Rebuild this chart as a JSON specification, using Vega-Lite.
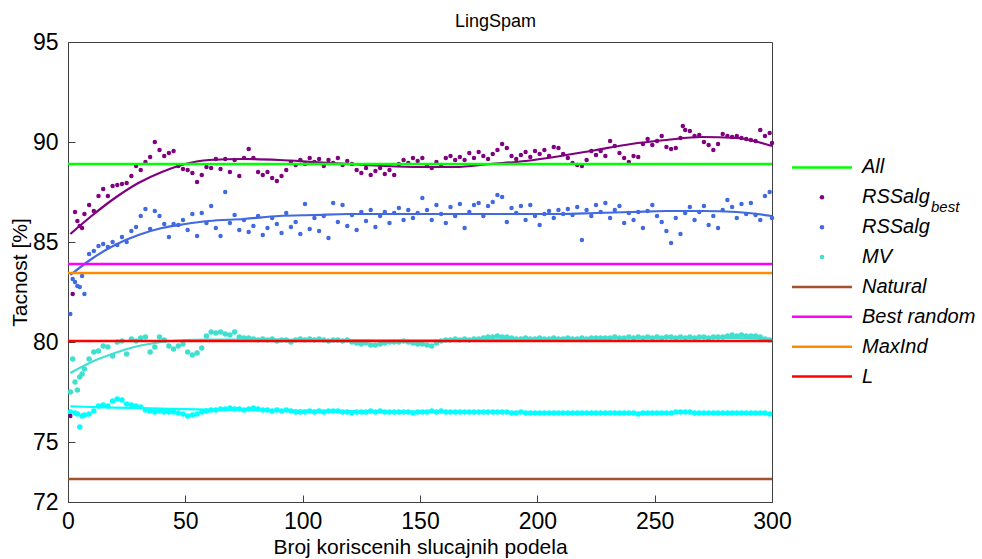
{
  "$schema": "https://vega.github.io/schema/vega-lite/v6.json",
  "background": "white",
  "padding": {"left": 8, "top": 12, "right": 0, "bottom": 0},
  "bounds": "flush",
  "spacing": 10,
  "title": {"text": "LingSpam", "fontSize": 18, "fontWeight": "normal", "color": "#000", "font": "Liberation Sans", "anchor": "middle", "offset": 0},
  "config": {
    "font": "Liberation Sans",
    "axis": {"domainColor": "#404040", "tickColor": "#404040", "tickSize": -7, "labelFontSize": 23, "titleFontSize": 21, "labelColor": "#000", "titleColor": "#000", "titleFontWeight": "normal", "grid": false, "labelFlush": false, "labelFont": "Liberation Sans", "titleFont": "Liberation Sans"}
  },
  "datasets": {
    "pts": [
      {"x":1,"p":76.3,"b":81.4,"t":77.5,"c":76.5},
      {"x":2,"p":82.4,"b":83.15,"t":79.15},
      {"x":3,"p":86.5,"b":83.0,"t":78.0,"c":76.45},
      {"x":4,"p":86.05,"b":82.8,"t":77.6,"c":76.4},
      {"x":5,"p":85.8,"b":82.75,"t":78.25,"c":75.75},
      {"x":6,"p":85.7,"b":83.3,"t":78.4,"c":76.3},
      {"x":7,"p":86.4,"b":82.4,"t":78.65,"c":76.35},
      {"x":9,"p":86.85,"b":84.4,"t":79.15,"c":76.4},
      {"x":11,"p":86.55,"b":84.55,"t":79.5,"c":76.55},
      {"x":13,"p":87.3,"b":84.8,"t":79.55,"c":76.8},
      {"x":15,"p":87.65,"b":84.9,"t":79.8,"c":76.85},
      {"x":17,"p":87.3,"b":84.75,"t":79.75,"c":76.8},
      {"x":19,"p":87.8,"b":85.0,"t":79.3,"c":77.05},
      {"x":21,"p":87.85,"b":84.85,"t":80.0,"c":77.15},
      {"x":23,"p":87.9,"b":85.25,"t":80.05,"c":77.1},
      {"x":25,"p":87.95,"b":85.0,"t":79.4,"c":76.9},
      {"x":27,"p":88.3,"b":85.55,"t":80.15,"c":76.85},
      {"x":29,"p":88.8,"b":85.75,"t":80.05,"c":76.8},
      {"x":31,"p":88.6,"b":86.3,"t":80.2,"c":76.75},
      {"x":33,"p":89.0,"b":86.65,"t":80.25,"c":76.6},
      {"x":35,"p":89.25,"b":85.65,"t":79.5,"c":76.55},
      {"x":37,"p":90.0,"b":86.55,"t":79.75,"c":76.5},
      {"x":39,"p":89.6,"b":86.3,"t":80.25,"c":76.55},
      {"x":41,"p":89.3,"b":85.9,"t":80.1,"c":76.5},
      {"x":43,"p":89.45,"b":85.25,"t":79.8,"c":76.5},
      {"x":45,"p":89.55,"b":85.9,"t":79.65,"c":76.5},
      {"x":47,"p":88.8,"b":85.85,"t":79.8,"c":76.45},
      {"x":49,"p":88.65,"b":86.1,"t":79.9,"c":76.4},
      {"x":51,"p":88.6,"b":85.6,"t":79.5,"c":76.3},
      {"x":53,"p":88.45,"b":86.4,"t":79.35,"c":76.35},
      {"x":55,"p":88.0,"b":85.3,"t":79.45,"c":76.4},
      {"x":57,"p":88.35,"b":86.45,"t":79.7,"c":76.5},
      {"x":59,"p":88.75,"b":85.95,"t":80.3,"c":76.55},
      {"x":61,"p":88.7,"b":86.8,"t":80.5,"c":76.6},
      {"x":63,"p":89.15,"b":85.7,"t":80.45,"c":76.6},
      {"x":65,"p":88.65,"b":85.3,"t":80.5,"c":76.65},
      {"x":67,"p":89.15,"b":87.5,"t":80.4,"c":76.65},
      {"x":69,"p":88.5,"b":85.95,"t":80.35,"c":76.7},
      {"x":71,"p":89.1,"b":86.35,"t":80.5,"c":76.65},
      {"x":73,"p":88.3,"b":85.6,"t":80.25,"c":76.65},
      {"x":75,"p":89.2,"b":86.1,"t":80.2,"c":76.6},
      {"x":77,"p":89.65,"b":85.5,"t":80.2,"c":76.65},
      {"x":79,"p":89.2,"b":85.8,"t":80.15,"c":76.7},
      {"x":81,"p":88.5,"b":86.3,"t":80.1,"c":76.65},
      {"x":83,"p":88.35,"b":85.35,"t":80.15,"c":76.6},
      {"x":85,"p":88.5,"b":85.7,"t":80.1,"c":76.6},
      {"x":87,"p":88.2,"b":86.2,"t":80.15,"c":76.55},
      {"x":89,"p":88.05,"b":85.9,"t":80.05,"c":76.6},
      {"x":91,"p":88.3,"b":85.45,"t":80.1,"c":76.55},
      {"x":93,"p":88.6,"b":86.45,"t":80.1,"c":76.6},
      {"x":95,"p":89.0,"b":85.75,"t":80.0,"c":76.55},
      {"x":97,"p":88.85,"b":86.0,"t":80.1,"c":76.5},
      {"x":99,"p":89.1,"b":85.4,"t":80.15,"c":76.5},
      {"x":101,"p":88.9,"b":86.9,"t":80.1,"c":76.5},
      {"x":103,"p":89.2,"b":85.65,"t":80.15,"c":76.55},
      {"x":105,"p":89.0,"b":86.2,"t":80.1,"c":76.5},
      {"x":107,"p":89.15,"b":85.55,"t":80.15,"c":76.55},
      {"x":109,"p":88.8,"b":86.3,"t":80.1,"c":76.5},
      {"x":111,"p":89.1,"b":85.2,"t":80.05,"c":76.55},
      {"x":113,"p":88.95,"b":86.95,"t":80.1,"c":76.55},
      {"x":115,"p":89.2,"b":86.0,"t":80.1,"c":76.55},
      {"x":117,"p":88.85,"b":86.85,"t":80.05,"c":76.5},
      {"x":119,"p":89.05,"b":85.8,"t":80.1,"c":76.5},
      {"x":121,"p":88.9,"b":86.35,"t":80.0,"c":76.45},
      {"x":123,"p":88.6,"b":85.6,"t":79.95,"c":76.5},
      {"x":125,"p":88.45,"b":86.5,"t":79.9,"c":76.5},
      {"x":127,"p":88.7,"b":86.05,"t":79.95,"c":76.5},
      {"x":129,"p":88.35,"b":86.6,"t":79.85,"c":76.55},
      {"x":131,"p":88.55,"b":85.75,"t":79.85,"c":76.5},
      {"x":133,"p":88.7,"b":86.3,"t":79.9,"c":76.55},
      {"x":135,"p":88.4,"b":86.5,"t":79.95,"c":76.5},
      {"x":137,"p":88.6,"b":85.95,"t":80.0,"c":76.5},
      {"x":139,"p":88.35,"b":86.45,"t":80.0,"c":76.5},
      {"x":141,"p":88.9,"b":86.7,"t":80.0,"c":76.5},
      {"x":143,"p":89.1,"b":86.1,"t":80.05,"c":76.5},
      {"x":145,"p":88.95,"b":86.6,"t":80.0,"c":76.5},
      {"x":147,"p":89.2,"b":86.2,"t":79.95,"c":76.45},
      {"x":149,"p":89.05,"b":86.45,"t":79.9,"c":76.5},
      {"x":151,"p":89.2,"b":87.2,"t":79.9,"c":76.5},
      {"x":153,"p":88.8,"b":86.6,"t":79.85,"c":76.5},
      {"x":155,"p":88.7,"b":86.1,"t":79.8,"c":76.55},
      {"x":157,"p":89.0,"b":86.85,"t":79.95,"c":76.5},
      {"x":159,"p":88.85,"b":86.4,"t":80.05,"c":76.55},
      {"x":161,"p":89.2,"b":85.95,"t":80.1,"c":76.5},
      {"x":163,"p":89.3,"b":86.75,"t":80.1,"c":76.5},
      {"x":165,"p":89.1,"b":86.3,"t":80.15,"c":76.5},
      {"x":167,"p":89.25,"b":86.9,"t":80.1,"c":76.5},
      {"x":169,"p":89.1,"b":85.7,"t":80.15,"c":76.5},
      {"x":171,"p":89.45,"b":86.5,"t":80.1,"c":76.5},
      {"x":173,"p":89.2,"b":86.85,"t":80.15,"c":76.5},
      {"x":175,"p":89.5,"b":86.95,"t":80.15,"c":76.5},
      {"x":177,"p":89.3,"b":86.3,"t":80.2,"c":76.5},
      {"x":179,"p":89.15,"b":86.8,"t":80.25,"c":76.5},
      {"x":181,"p":89.4,"b":87.0,"t":80.25,"c":76.5},
      {"x":183,"p":89.6,"b":87.35,"t":80.3,"c":76.5},
      {"x":185,"p":89.9,"b":87.25,"t":80.25,"c":76.5},
      {"x":187,"p":89.7,"b":86.0,"t":80.25,"c":76.5},
      {"x":189,"p":89.3,"b":86.7,"t":80.2,"c":76.45},
      {"x":191,"p":89.15,"b":86.45,"t":80.15,"c":76.45},
      {"x":193,"p":89.35,"b":86.8,"t":80.15,"c":76.5},
      {"x":195,"p":89.5,"b":86.1,"t":80.2,"c":76.45},
      {"x":197,"p":89.25,"b":86.85,"t":80.15,"c":76.45},
      {"x":199,"p":89.55,"b":86.3,"t":80.15,"c":76.45},
      {"x":201,"p":89.4,"b":85.85,"t":80.2,"c":76.45},
      {"x":203,"p":89.6,"b":86.4,"t":80.15,"c":76.45},
      {"x":205,"p":89.3,"b":86.55,"t":80.15,"c":76.45},
      {"x":207,"p":89.75,"b":86.2,"t":80.2,"c":76.45},
      {"x":209,"p":89.7,"b":86.6,"t":80.15,"c":76.45},
      {"x":211,"p":89.4,"b":86.4,"t":80.15,"c":76.45},
      {"x":213,"p":89.2,"b":86.65,"t":80.2,"c":76.45},
      {"x":215,"p":88.95,"b":86.35,"t":80.15,"c":76.45},
      {"x":217,"p":88.85,"b":86.75,"t":80.15,"c":76.45},
      {"x":219,"p":88.8,"b":85.1,"t":80.2,"c":76.45},
      {"x":221,"p":89.1,"b":86.6,"t":80.15,"c":76.45},
      {"x":223,"p":89.55,"b":86.3,"t":80.2,"c":76.45},
      {"x":225,"p":89.35,"b":86.85,"t":80.2,"c":76.45},
      {"x":227,"p":89.55,"b":86.5,"t":80.2,"c":76.45},
      {"x":229,"p":89.3,"b":86.95,"t":80.2,"c":76.45},
      {"x":231,"p":90.05,"b":86.2,"t":80.2,"c":76.45},
      {"x":233,"p":89.8,"b":86.6,"t":80.25,"c":76.45},
      {"x":235,"p":89.45,"b":86.8,"t":80.2,"c":76.45},
      {"x":237,"p":89.2,"b":85.95,"t":80.2,"c":76.45},
      {"x":239,"p":89.0,"b":86.45,"t":80.25,"c":76.45},
      {"x":241,"p":89.3,"b":86.1,"t":80.2,"c":76.45},
      {"x":243,"p":89.25,"b":86.5,"t":80.25,"c":76.4},
      {"x":245,"p":89.9,"b":85.7,"t":80.2,"c":76.45},
      {"x":247,"p":90.15,"b":86.55,"t":80.25,"c":76.45},
      {"x":249,"p":89.85,"b":86.85,"t":80.2,"c":76.45},
      {"x":251,"p":90.05,"b":86.3,"t":80.25,"c":76.45},
      {"x":253,"p":90.3,"b":86.0,"t":80.2,"c":76.45},
      {"x":255,"p":89.75,"b":85.55,"t":80.25,"c":76.45},
      {"x":257,"p":89.65,"b":84.95,"t":80.25,"c":76.45},
      {"x":259,"p":89.7,"b":86.2,"t":80.2,"c":76.5},
      {"x":261,"p":90.2,"b":85.4,"t":80.25,"c":76.5},
      {"x":262,"p":90.8},
      {"x":263,"p":90.6,"b":86.45,"t":80.2,"c":76.5},
      {"x":265,"p":90.55,"b":86.75,"t":80.25,"c":76.5},
      {"x":267,"p":90.3,"b":86.1,"t":80.2,"c":76.45},
      {"x":269,"p":90.35,"b":86.5,"t":80.25,"c":76.45},
      {"x":271,"p":90.0,"b":86.8,"t":80.25,"c":76.45},
      {"x":273,"p":89.85,"b":85.85,"t":80.2,"c":76.45},
      {"x":275,"p":89.6,"b":86.3,"t":80.25,"c":76.45},
      {"x":277,"p":89.9,"b":85.7,"t":80.25,"c":76.45},
      {"x":279,"p":90.4,"b":86.6,"t":80.25,"c":76.45},
      {"x":281,"p":90.3,"b":87.1,"t":80.3,"c":76.45},
      {"x":283,"p":90.25,"b":86.75,"t":80.35,"c":76.45},
      {"x":285,"p":90.3,"b":86.2,"t":80.3,"c":76.45},
      {"x":287,"p":90.2,"b":86.9,"t":80.35,"c":76.45},
      {"x":289,"p":90.15,"b":86.4,"t":80.3,"c":76.45},
      {"x":291,"p":90.1,"b":86.95,"t":80.3,"c":76.45},
      {"x":293,"p":90.05,"b":86.35,"t":80.3,"c":76.45},
      {"x":295,"p":90.6,"b":86.1,"t":80.25,"c":76.45},
      {"x":297,"p":90.3,"b":87.3,"t":80.15,"c":76.45},
      {"x":299,"p":90.45,"b":87.5,"t":80.1,"c":76.4},
      {"x":300,"p":89.95,"b":86.2}
    ],
    "fits": [
      {"x":1,"p":85.4,"b":83.35,"t":78.45,"c":76.78},
      {"x":10,"p":86.3,"b":84.15,"t":79.0,"c":76.75},
      {"x":20,"p":87.2,"b":84.85,"t":79.45,"c":76.72},
      {"x":30,"p":87.95,"b":85.35,"t":79.8,"c":76.7},
      {"x":40,"p":88.5,"b":85.7,"t":80.0,"c":76.67},
      {"x":50,"p":88.9,"b":85.9,"t":80.1,"c":76.64},
      {"x":60,"p":89.1,"b":86.05,"t":80.12,"c":76.62},
      {"x":75,"p":89.15,"b":86.15,"t":80.12,"c":76.6},
      {"x":90,"p":89.1,"b":86.3,"t":80.12,"c":76.58},
      {"x":105,"p":89.0,"b":86.35,"t":80.1,"c":76.56},
      {"x":120,"p":88.9,"b":86.4,"t":80.1,"c":76.55},
      {"x":135,"p":88.8,"b":86.4,"t":80.08,"c":76.53},
      {"x":150,"p":88.75,"b":86.4,"t":80.08,"c":76.52},
      {"x":165,"p":88.75,"b":86.4,"t":80.1,"c":76.51},
      {"x":180,"p":88.9,"b":86.4,"t":80.12,"c":76.5},
      {"x":195,"p":89.05,"b":86.4,"t":80.14,"c":76.49},
      {"x":210,"p":89.3,"b":86.4,"t":80.16,"c":76.48},
      {"x":225,"p":89.6,"b":86.45,"t":80.18,"c":76.47},
      {"x":240,"p":89.9,"b":86.5,"t":80.2,"c":76.46},
      {"x":255,"p":90.1,"b":86.55,"t":80.22,"c":76.45},
      {"x":270,"p":90.25,"b":86.55,"t":80.22,"c":76.45},
      {"x":285,"p":90.2,"b":86.5,"t":80.2,"c":76.44},
      {"x":300,"p":89.8,"b":86.3,"t":80.15,"c":76.43}
    ],
    "ref": [
      {"s":"All","v":88.9},
      {"s":"Best random","v":83.9},
      {"s":"MaxInd","v":83.45},
      {"s":"L","v":80.05},
      {"s":"Natural","v":73.15}
    ],
    "leg": [
      {"s":"All","label":"All","kind":"line"},
      {"s":"p","label":"RSSalg","kind":"dot"},
      {"s":"b","label":"RSSalg","kind":"dot"},
      {"s":"t","label":"MV","kind":"dot"},
      {"s":"Natural","label":"Natural","kind":"line"},
      {"s":"Best random","label":"Best random","kind":"line"},
      {"s":"MaxInd","label":"MaxInd","kind":"line"},
      {"s":"L","label":"L","kind":"line"}
    ]
  },
  "hconcat": [
    {
      "width": 704,
      "height": 460,
      "view": {"stroke": "#404040", "strokeWidth": 1},
      "layer": [
        {
          "data": {"name": "pts"},
          "transform": [{"fold": ["c", "t"], "as": ["s", "v"]}, {"filter": "isValid(datum.v)"}],
          "mark": {"type": "circle", "size": 30, "opacity": 1},
          "encoding": {
            "x": {"field": "x", "type": "quantitative", "scale": {"domain": [0, 300], "nice": false}, "axis": {"values": [0, 50, 100, 150, 200, 250, 300], "title": "Broj koriscenih slucajnih podela", "labelPadding": 15, "titlePadding": 3}},
            "y": {"field": "v", "type": "quantitative", "scale": {"domain": [72, 95], "nice": false, "zero": false}, "axis": {"values": [72, 75, 80, 85, 90, 95], "title": "Tacnost [%]", "labelPadding": 17, "titlePadding": 2}},
            "color": {"field": "s", "type": "nominal", "legend": null, "scale": {"domain": ["p", "b", "t", "c", "All", "Natural", "Best random", "MaxInd", "L"], "range": ["#800080", "#4169e1", "#40e0d0", "#00ffff", "#00ff00", "#a0522d", "#ff00ff", "#ff8c00", "#ff0000"]}}
          }
        },
        {
          "data": {"name": "pts"},
          "transform": [{"fold": ["b", "p"], "as": ["s", "v"]}, {"filter": "isValid(datum.v)"}],
          "mark": {"type": "circle", "size": 20, "opacity": 1},
          "encoding": {
            "x": {"field": "x", "type": "quantitative"},
            "y": {"field": "v", "type": "quantitative"},
            "color": {"field": "s", "type": "nominal", "legend": null}
          }
        },
        {
          "data": {"name": "fits"},
          "transform": [{"fold": ["c", "t", "b", "p"], "as": ["s", "v"]}],
          "mark": {"type": "line", "strokeWidth": 2.2, "interpolate": "monotone"},
          "encoding": {
            "x": {"field": "x", "type": "quantitative"},
            "y": {"field": "v", "type": "quantitative"},
            "color": {"field": "s", "type": "nominal", "legend": null}
          }
        },
        {
          "data": {"name": "ref"},
          "mark": {"type": "rule", "strokeWidth": 2.5},
          "encoding": {
            "y": {"field": "v", "type": "quantitative"},
            "color": {"field": "s", "type": "nominal", "legend": null}
          }
        }
      ]
    },
    {
      "width": 200,
      "height": 460,
      "view": {"stroke": null},
      "data": {"name": "leg"},
      "encoding": {
        "y": {"field": "s", "type": "nominal", "scale": {"type": "point", "padding": 0.2, "domain": [" 1", " 2", " 3", " 4", "All", "p", "b", "t", "Natural", "Best random", "MaxInd", "L", " 5", " 6", " 7", " 8"]}, "axis": null}
      },
      "layer": [
        {
          "transform": [{"filter": "datum.kind == 'line'"}],
          "mark": {"type": "rule", "strokeWidth": 2.5},
          "encoding": {
            "x": {"datum": 10, "type": "quantitative", "scale": {"domain": [0, 200]}, "axis": null},
            "x2": {"datum": 70},
            "color": {"field": "s", "type": "nominal", "legend": null, "scale": {"domain": ["p", "b", "t", "c", "All", "Natural", "Best random", "MaxInd", "L"], "range": ["#800080", "#4169e1", "#40e0d0", "#00ffff", "#00ff00", "#a0522d", "#ff00ff", "#ff8c00", "#ff0000"]}}
          }
        },
        {
          "transform": [{"filter": "datum.kind == 'dot'"}],
          "mark": {"type": "circle", "size": 20, "opacity": 1},
          "encoding": {
            "x": {"datum": 40, "type": "quantitative"},
            "color": {"field": "s", "type": "nominal", "legend": null}
          }
        },
        {
          "mark": {"type": "text", "align": "left", "baseline": "middle", "fontSize": 20, "fontStyle": "italic", "color": "#000", "font": "Liberation Sans"},
          "encoding": {
            "x": {"datum": 80, "type": "quantitative"},
            "text": {"field": "label"}
          }
        },
        {
          "transform": [{"filter": "datum.s == 'p'"}],
          "mark": {"type": "text", "align": "left", "baseline": "middle", "fontSize": 15, "fontStyle": "italic", "color": "#000", "font": "Liberation Sans", "dx": 69, "dy": 10},
          "encoding": {
            "x": {"datum": 80, "type": "quantitative"},
            "text": {"value": "best"}
          }
        }
      ]
    }
  ]
}
